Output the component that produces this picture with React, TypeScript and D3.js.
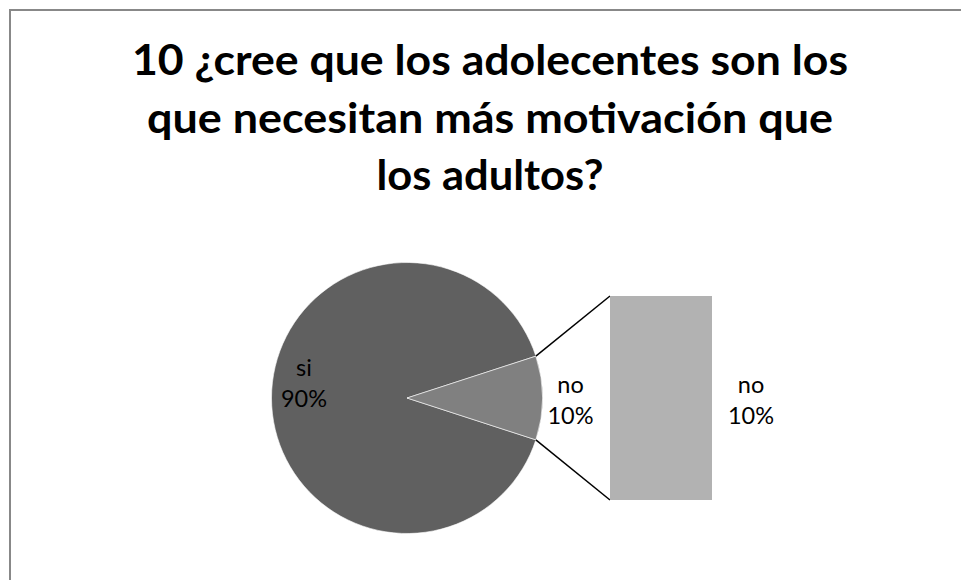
import React from "react";
import * as d3 from "d3";

const titleLines = [
  "10 ¿cree que los adolecentes son los",
  "que necesitan más motivación que",
  "los adultos?",
];
const categories = ["si", "no"];
const values = [90, 10];
const percentLabels = ["90%", "10%"];
const barCategories = ["no"];
const barValues = [10];
const barPercentLabels = ["10%"];

const W = 961;
const H = 580;
const FONT = "Lato, 'Open Sans', sans-serif";

export default function App() {
  const cx = 407;
  const cy = 398;
  const r = 135.5;
  const pieColors = ["#606060", "#808080"];

  const start = (108 * Math.PI) / 180;
  const pie = d3
    .pie<number>()
    .sort(null)
    .startAngle(start)
    .endAngle(start + 2 * Math.PI);
  const arcs = pie(values);
  const arcGen = d3.arc<d3.PieArcDatum<number>>().innerRadius(0).outerRadius(r);
  const insideLabelArc = d3
    .arc<d3.PieArcDatum<number>>()
    .innerRadius(r * 0.76)
    .outerRadius(r * 0.76);
  const outsideLabelArc = d3
    .arc<d3.PieArcDatum<number>>()
    .innerRadius(r + 28)
    .outerRadius(r + 28);

  const barX0 = 610;
  const barX1 = 712;
  const total = d3.sum(barValues);
  const yBar = d3.scaleLinear().domain([0, total]).range([500, 296]);
  const cum = d3.cumsum(barValues);

  const noArc = arcs[1];
  const pt = (a: number) => [cx + r * Math.sin(a), cy - r * Math.cos(a)];
  const pA = pt(noArc.startAngle);
  const pB = pt(noArc.endAngle);
  const upper = pA[1] < pB[1] ? pA : pB;
  const lower = pA[1] < pB[1] ? pB : pA;

  const titleLens = [716, 686, 227];
  const titleBase = [75, 132.5, 190];

  return (
    <svg
      width={W}
      height={H}
      style={{ position: "absolute", left: 0, top: 0, display: "block", background: "#fff" }}
    >
      <rect x={0} y={0} width={W} height={H} fill="#fff" />
      <rect x={10} y={10} width={1000} height={700} fill="#fff" stroke="#888" strokeWidth={2} />
      {titleLines.map((t, i) => (
        <text
          key={i}
          x={490}
          y={titleBase[i]}
          textAnchor="middle"
          fontFamily={FONT}
          fontWeight={700}
          fontSize={42}
          fill="#000"
          textLength={titleLens[i]}
          lengthAdjust="spacingAndGlyphs"
        >
          {t}
        </text>
      ))}
      <g transform={`translate(${cx},${cy})`}>
        {arcs.map((a, i) => (
          <path key={i} d={arcGen(a) || ""} fill={pieColors[i]} stroke="#fff" strokeWidth={0.6} />
        ))}
      </g>
      <line x1={upper[0]} y1={upper[1]} x2={barX0} y2={yBar(total)} stroke="#000" strokeWidth={1.5} />
      <line x1={lower[0]} y1={lower[1]} x2={barX0} y2={yBar(0)} stroke="#000" strokeWidth={1.5} />
      {barValues.map((v, i) => (
        <rect
          key={i}
          x={barX0}
          y={yBar(cum[i])}
          width={barX1 - barX0}
          height={yBar(cum[i] - v) - yBar(cum[i])}
          fill="#b2b2b2"
        />
      ))}
      {arcs.map((a, i) => {
        const c = i === 0 ? insideLabelArc.centroid(a) : outsideLabelArc.centroid(a);
        const x = cx + c[0];
        const y = cy + c[1];
        const d1 = i === 0 ? -22 : -5;
        return (
          <text key={i} fontFamily={FONT} fontSize={23.5} fill="#000" textAnchor="middle">
            <tspan x={x} y={y + d1}>{categories[i]}</tspan>
            <tspan x={x} y={y + d1 + 31}>{percentLabels[i]}</tspan>
          </text>
        );
      })}
      {barValues.map((v, i) => {
        const x = barX1 + 39;
        const y = (yBar(cum[i]) + yBar(cum[i] - v)) / 2;
        return (
          <text key={i} fontFamily={FONT} fontSize={23.5} fill="#000" textAnchor="middle">
            <tspan x={x} y={y - 5}>{barCategories[i]}</tspan>
            <tspan x={x} y={y + 26}>{barPercentLabels[i]}</tspan>
          </text>
        );
      })}
    </svg>
  );
}
